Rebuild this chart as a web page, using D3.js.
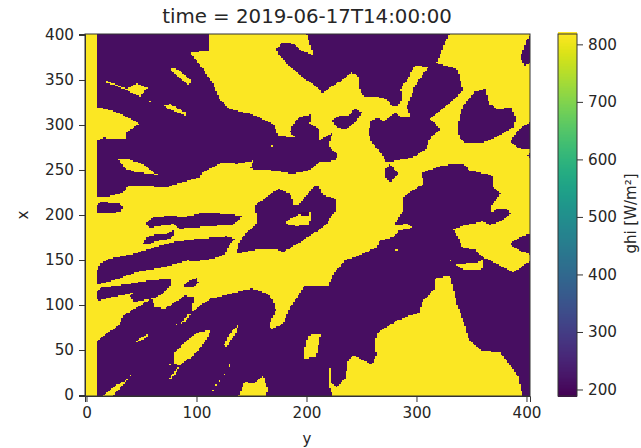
<!DOCTYPE html>
<html>
<head>
<meta charset="utf-8">
<script src="https://cdn.jsdelivr.net/npm/d3@7"></script>
<style>
    html, body { margin: 0; background: #fff; }
    text { font-family: "DejaVu Sans", sans-serif; fill: #262626; }
    .tick text { font-size: 15.2px; font-family: "DejaVu Sans", sans-serif; fill: #262626; }
    .tick line, .domain { stroke: #333; }
</style>
</head>
<body>
<svg id="chart" width="641" height="448"></svg>
<script>
// Values: ghi levels and outlines of the cells, in x/y data units ([y, x])
const titleText = 'time = 2019-06-17T14:00:00';
const xTicks = [0, 100, 200, 300, 400];
const yTicks = [0, 50, 100, 150, 200, 250, 300, 350, 400];
const colorTicks = [200, 300, 400, 500, 600, 700, 800];
const clearGhi = 815;
const cloudGhi = 212;
const deepGhi = 190;
const gridStep = 1.5;

const cloudOutlines = [
    // north-west cell
    [[8.6,402],[110.7,402],[110.7,383.4],[94.1,380.8],[104.7,364.8],[115.3,346.3],[121.4,327.8],[130.4,318.5],[148.6,313],[169.8,301.9],[174.4,288.9],[191,286.3],[185,292.6],[188,301.9],[194.1,309.3],[204.7,312.2],[203.2,301.9],[210.7,296.3],[212.3,290.8],[210.7,283.4],[224.4,292.6],[219.8,277.8],[228.9,266.7],[225.9,261.1],[212.3,259.3],[201.6,250],[194.1,248.2],[188,246.3],[169.8,250],[148.6,251.9],[151.7,261.1],[136.5,257.4],[124.4,259.3],[106.2,248.2],[103.2,242.6],[72.9,231.5],[38,233.4],[33.5,225.9],[18.3,220.4],[9.2,220.4],[8.6,268.5],[9.2,283.4],[15.3,286.3],[35.9,285.2],[36.5,292.6],[48.6,301.9],[30.5,313],[18.3,318.5],[8.6,320.4],[8.6,353.7],[9.2,379.7]],
    // top centre cell
    [[200.2,402],[329.8,402],[322.9,383.4],[318.3,369.3],[336.5,363],[338.9,355.6],[342,338.9],[335,329.7],[321.4,316.7],[312.3,307.4],[321.4,296.3],[310.8,283.4],[309.2,274.1],[297.1,264.8],[272.9,259.3],[266.8,270.4],[259.2,281.5],[256.2,292.6],[259.2,305.6],[265.3,308.5],[269.9,303.7],[280.5,314.8],[285,310],[294.7,310],[291.1,320.4],[295.6,333.4],[298.6,344.5],[310.8,364.8],[298.6,366.7],[291.1,350],[285.6,340.8],[286.5,329.7],[283.5,321.1],[277.4,321.1],[274.4,327.8],[263.8,332.2],[251.7,332.2],[248.6,338.9],[247.1,353.7],[241.1,359.3],[232,350],[224.4,344.5],[214.7,335.9],[209.3,342.6],[200.2,350.8],[194.1,355.6],[185,364.8],[174.4,379.7],[172.9,385.2],[177.4,391.5],[186.5,391.5],[194.1,384.1],[206.8,377.8],[203.2,388.9]],
    [[222.9,305.6],[230.5,311.1],[238,311.1],[244.1,318.5],[250.2,314.8],[245.6,305.6],[235,295.2],[227.4,298.2]],
    // heart shaped cell
    [[339,309.3],[342.6,322.2],[353.2,337.1],[362.3,340.8],[366.2,324.1],[372.9,318.5],[386.5,319.7],[390.4,307.4],[388,298.2],[372.9,287.1],[359.2,280.4],[344.1,280.4],[339.5,285.2],[337.1,296.3]],
    // right edge
    [[404,402],[400,394.5],[396.5,383.4],[394,374.1],[398.6,366.7],[404,370.4]],
    [[404,303.7],[395.6,298.2],[389.5,290.8],[385,281.5],[394,274.1],[404,274.1]],
    [[400,266.8],[404,270],[404,264]],
    [[275.3,256.7],[284.4,246.3],[275.9,237],[271.4,242.6],[272.3,251.9]],
    // centre cell around the bright hole
    [[136.5,157.4],[138.9,170.4],[145.6,181.5],[153.2,188.9],[154.7,194.5],[153.2,211.2],[163.8,220.4],[174.4,229.7],[185,224.1],[188.6,211.2],[194.1,213],[206.2,231.5],[210.7,233.4],[215.3,222.3],[225.9,218.6],[226.8,205.6],[222.9,200],[218.3,190.8],[206.2,179.7],[194.1,170.4],[179,159.3],[171.3,163],[154.7,161.9]],
    // western bands
    [[54.1,190.8],[59.2,197.5],[75.9,200],[89.5,198.2],[106.2,203.7],[124.4,201.9],[141,200],[138,194.5],[133.5,190],[109.2,187.8],[85,185.2],[79.5,190.8],[69.8,189],[57.7,186.3]],
    [[9.2,211.2],[12.9,214.9],[30.5,213],[33.5,208.6],[30.5,204.5],[21.4,202.6],[9.8,202.6]],
    [[51.1,169.3],[55.3,176],[64.4,178.9],[74.4,179.7],[78.9,184.1],[79.5,178.9],[75.9,174.1],[63.8,171.5],[56.2,167.8]],
    [[8.6,124.1],[9.8,138.9],[11.7,146.3],[21.4,151.9],[42.6,157.4],[60.8,164.1],[78.9,170.4],[100.1,174.1],[127.4,176.7],[135,174.1],[130.4,168.6],[125.9,157.4],[115.3,151.9],[97.1,148.2],[92.6,150],[69.8,142.6],[45.6,137.1],[24.4,127.8],[10.8,123.4]],
    [[8.6,108.6],[9.2,114.9],[13.8,119.7],[36.5,123.4],[57.7,127.8],[75.9,129.7],[76.8,124.1],[72.9,116.7],[62.3,108.6],[42.6,103.7],[39.5,111.1],[44.1,114.9],[21.4,108.6],[10.8,104.9]],
    [[88,121.2],[92.6,127.1],[100.1,130.4],[101.7,124.9],[95.6,119.7]],
    // big southern cell
    [[8.6,-2],[8.6,59.3],[30.5,79.7],[33.5,88.9],[59.2,107.4],[62.3,98.2],[71.4,96.3],[89.5,111.1],[97.7,109.3],[95.6,92.6],[112.3,107.4],[130.4,113],[150.1,118.6],[163.8,113.7],[169.8,105.6],[172.3,94.5],[166.2,77.8],[168.3,74.1],[178.9,79.7],[185,98.2],[194.1,113],[197.1,121.1],[210.8,122.3],[219.9,122.3],[225.9,137.1],[235,150],[251.7,157.4],[263.8,164.9],[266.8,172.3],[278.9,176],[285,183.4],[297.1,186.3],[291.7,190.8],[279.5,188.9],[288,205.6],[288,220.4],[298.6,229.6],[306.2,235.2],[304.7,247],[322.9,255.6],[342.6,257.4],[348.6,250],[368.3,244.5],[369.8,231.5],[376.8,224.8],[368.3,211.1],[367.4,203.7],[357.7,192.6],[342.6,188.9],[333.5,184.1],[338.9,174.1],[341,164.9],[353.2,161.9],[360.2,153.7],[388,137.1],[404,150],[404,-2]],
    [[358.6,193.7],[363.8,200],[372.9,207.5],[382,207.5],[385.6,202.6],[377.4,193.7],[366.8,190]],
    [[385,168.6],[394.1,176],[404,179.7],[404,156.7],[394.1,160.4]]
];

const clearOutlines = [
    [[17.7,350],[36.5,340.8],[45.6,346.3],[55.3,341.5],[48.6,332.2],[38,338.2],[17.7,348.2]],
    [[76.5,363],[80.4,364],[95.6,350],[92.6,344.5],[76.5,361.1]],
    [[70.7,322.2],[75.9,324.1],[91.1,313.7],[89.5,311.1],[70.7,321.1]],
    [[28.3,263],[38,263],[53.2,255.6],[64.4,245.2],[45.6,248.2],[35,251.9]],
    // hole in the centre cell
    [[180.4,190.8],[184.4,196.3],[191,198.9],[195.6,204.5],[203.8,204.9],[204.4,197.4],[202,190],[191,188.2]],
    // big southern clearing
    [[219.9,29.7],[222,30.8],[222.9,13],[227.4,9.3],[235,18.5],[238,38.9],[242.6,44.5],[259.2,34.5],[263.8,44.5],[262.3,59.3],[265.3,70.4],[282,83.4],[303.2,92.6],[304.7,103.7],[316.8,118.6],[316.8,129.7],[330.5,133.4],[336.5,101.9],[344.1,77.8],[347.1,63],[359.2,50],[375.9,48.2],[382,39],[392.6,20.4],[396.5,-2],[224.4,-2],[220.8,9.3]],
    [[330.5,150],[335,146.3],[342.6,146.3],[356.2,148.2],[360.8,151.9],[359.2,139.7],[342.6,139.7],[336.5,144.5]],
    [[279.8,161.2],[284.4,163.7],[284.1,160.4]],
    [[198.6,53.7],[201.7,66.7],[212.9,68.6],[209.2,46.3],[208.6,42.6],[198.6,40.8]],
    [[78.9,46.3],[88,57.4],[101.7,70.4],[113.8,73],[107.7,59.3],[97.1,44.5],[85,33.4],[80.4,35.2]],
    [[74.4,18.5],[83.5,31.5],[85,30.8],[76.5,17.4]],
    [[85.6,80.4],[93.5,91.5],[94.7,90],[89.5,81.5]],
    [[124.4,55.6],[130.4,68.6],[138,78.5],[136.5,70.4],[127.4,54.5]],
    [[44.7,59.3],[56.2,69.3],[55.3,64.8],[45.6,58.6]],
    [[138,-2],[144.1,16],[151.7,13],[160.7,22.3],[165.3,5.6],[162.3,-2]],
    [[14.4,-2],[24.4,9.3],[38,18.5],[22.9,-2]]
];

const clearDots = [[58.6,326.7],[168.9,277.8],[75.3,33.7],[82.6,79.7],[114.7,5.6],[117.7,11.1],[121.4,16.7],[125.9,24.1],[129.8,33.4],[39.5,21.5]];
const deepOutlines = [[[192.5,201.5],[197,205],[202,204.5],[202,200],[197,199.5]]];

const svg = d3.select('#chart');
const margin = { left: 85, right: 530, top: 34, bottom: 396 };
const barLeft = 558, barRight = 577;

const x = d3.scaleLinear().domain([-1.36, 403.2]).range([margin.left, margin.right]);
const y = d3.scaleLinear().domain([-1.1, 401.1]).range([margin.bottom, margin.top]);
const colorAxis = d3.scaleLinear().domain([188.7, 818]).range([margin.bottom, margin.top]);
const color = d3.scaleSequential(d3.interpolateViridis).domain(colorAxis.domain());

// Rasterise outlines into a ghi grid, later lists paint over earlier ones
const xCells = d3.range(x.domain()[0], x.domain()[1], gridStep);
const yCells = d3.range(y.domain()[0], y.domain()[1], gridStep);
const grid = yCells.map(cy => xCells.map(cx => {
    const p = [cx + gridStep / 2, cy + gridStep / 2];
    let v = clearGhi;
    if (cloudOutlines.some(o => d3.polygonContains(o, p))) v = cloudGhi;
    if (clearOutlines.some(o => d3.polygonContains(o, p))) v = clearGhi;
    if (clearDots.some(d => Math.abs(d[0] - p[0]) <= gridStep / 2 && Math.abs(d[1] - p[1]) <= gridStep / 2)) v = clearGhi;
    if (deepOutlines.some(o => d3.polygonContains(o, p))) v = deepGhi;
    return v;
}));

// Merge cells of a row into runs to keep the rect count down
const runs = [];
grid.forEach((row, j) => {
    let start = 0;
    row.forEach((v, i) => {
        if (i === row.length - 1 || row[i + 1] !== v) {
            runs.push({ j, start, end: i, v });
            start = i + 1;
        }
    });
});

const clipId = 'plot-clip';
svg.append('clipPath').attr('id', clipId).append('rect')
    .attr('x', margin.left).attr('y', margin.top)
    .attr('width', margin.right - margin.left).attr('height', margin.bottom - margin.top);

svg.append('g').attr('clip-path', 'url(#' + clipId + ')')
    .attr('shape-rendering', 'crispEdges')
    .selectAll('rect').data(runs).enter().append('rect')
    .attr('x', d => x(xCells[d.start]))
    .attr('width', d => x(xCells[d.end] + gridStep) - x(xCells[d.start]) + 0.5)
    .attr('y', d => y(yCells[d.j] + gridStep))
    .attr('height', d => y(yCells[d.j]) - y(yCells[d.j] + gridStep) + 0.5)
    .attr('fill', d => color(d.v));

// Axes
svg.append('g').attr('transform', 'translate(0,' + margin.bottom + ')')
    .call(d3.axisBottom(x).tickValues(xTicks).tickSize(6).tickPadding(5));
svg.append('g').attr('transform', 'translate(' + margin.left + ',0)')
    .call(d3.axisLeft(y).tickValues(yTicks).tickSize(6).tickPadding(5));
svg.append('rect')
    .attr('x', margin.left).attr('y', margin.top)
    .attr('width', margin.right - margin.left).attr('height', margin.bottom - margin.top)
    .attr('fill', 'none').attr('stroke', '#333');

svg.append('text').attr('x', 307).attr('y', 23).attr('text-anchor', 'middle')
    .style('font-size', '19.8px').text(titleText);
svg.append('text').attr('x', 307).attr('y', 444).attr('text-anchor', 'middle')
    .style('font-size', '15px').text('y');
svg.append('text').attr('transform', 'translate(28,215) rotate(-90)').attr('text-anchor', 'middle')
    .style('font-size', '15px').text('x');

// Colorbar
const barSteps = d3.range(0, 256);
const barValue = d3.scaleLinear().domain([0, 255]).range(colorAxis.domain());
svg.append('g').attr('shape-rendering', 'crispEdges')
    .selectAll('rect').data(barSteps).enter().append('rect')
    .attr('x', barLeft).attr('width', barRight - barLeft)
    .attr('y', d => colorAxis(barValue(d)) - 2)
    .attr('height', 2.5)
    .attr('fill', d => color(barValue(d)));
svg.append('g').attr('transform', 'translate(' + barRight + ',0)')
    .call(d3.axisRight(colorAxis).tickValues(colorTicks).tickSize(6).tickPadding(5))
    .select('.domain').remove();
svg.append('rect')
    .attr('x', barLeft).attr('y', margin.top)
    .attr('width', barRight - barLeft).attr('height', margin.bottom - margin.top)
    .attr('fill', 'none').attr('stroke', '#333');
svg.append('text').attr('transform', 'translate(636,213.5) rotate(-90)').attr('text-anchor', 'middle')
    .style('font-size', '15px').text('ghi [W/m²]');
</script>
</body>
</html>
